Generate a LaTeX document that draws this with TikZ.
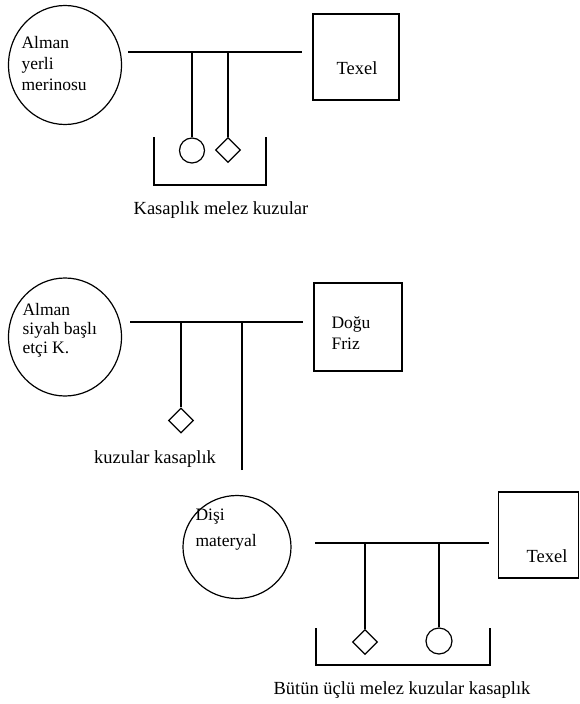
\documentclass[tikz,border=0pt]{standalone}
\usepackage{fontspec}
\setmainfont{Liberation Serif}
\usetikzlibrary{shapes.geometric}
\begin{document}
\begin{tikzpicture}[x=1pt,y=-1pt,line width=1.2pt,
  parent/.style={draw,ellipse,inner sep=0pt},
  breed/.style={draw,rectangle,inner sep=0pt},
  dia/.style={draw,diamond,inner sep=0pt,minimum width=25pt,minimum height=25pt},
  ball/.style={draw,circle,inner sep=0pt,minimum size=25pt},
  lbl/.style={inner sep=0pt,align=left,font=\fontsize{17.5}{21}\selectfont},
  captxt/.style={inner sep=0pt,font=\fontsize{18.5}{21}\selectfont}]
\useasboundingbox (0,0) rectangle (580,704);
% ---- section 1
\node[parent,minimum width=113pt,minimum height=119pt] (p1) at (65,65) {};
\node[lbl,anchor=west] (p1t) at (21,64) {Alman\\yerli\\merinosu};
\node[breed,minimum width=86pt,minimum height=86pt] (b1) at (356,57) {};
\node[captxt] (b1t) at (357,68) {Texel};
\coordinate (h1a) at (128,52);
\coordinate (h1b) at (302,52);
\draw (h1a) -- (h1b);
\node[ball] (o1) at (192,150.5) {};
\node[dia] (d1) at (228,150) {};
\draw (o1.north) -- (o1.north |- h1a);
\draw (d1.north) -- (d1.north |- h1a);
\coordinate (k1a) at (154,137);
\coordinate (k1b) at (154,185);
\coordinate (k1c) at (266,185);
\coordinate (k1d) at (266,137);
\draw (k1a) -- (k1b) -- (k1c) -- (k1d);
\node[captxt] (c1) at (221,210) {Kasaplık melez kuzular};
% ---- section 2
\node[parent,minimum width=113pt,minimum height=118pt] (p2) at (65,337) {};
\node[lbl,anchor=west,font=\fontsize{17.5}{19}\selectfont] (p2t) at (22,330) {Alman\\siyah başlı\\etçi K.};
\node[breed,minimum width=88pt,minimum height=88pt] (b2) at (358,327) {};
\node[lbl,anchor=west] (b2t) at (331,333) {Doğu\\Friz};
\coordinate (h2a) at (130,322);
\coordinate (h2b) at (303,322);
\draw (h2a) -- (h2b);
\node[dia] (d2) at (181,420.5) {};
\draw (d2.north) -- (d2.north |- h2a);
\coordinate (v2) at (242,470);
\draw (v2) -- (v2 |- h2a);
\node[captxt] (c2) at (155,459) {kuzular kasaplık};
% ---- section 3
\node[parent,minimum width=108pt,minimum height=103pt] (p3) at (237,547) {};
\node[lbl,anchor=west,font=\fontsize{17.5}{26}\selectfont] (p3t) at (195,530) {Dişi\\materyal};
\node[breed,minimum width=80pt,minimum height=86pt] (b3) at (538.5,535) {};
\node[captxt] (b3t) at (547,556) {Texel};
\coordinate (h3a) at (315,543);
\coordinate (h3b) at (489,543);
\draw (h3a) -- (h3b);
\node[dia] (d3) at (365,642) {};
\node[ball,minimum size=26pt] (o3) at (439,641) {};
\draw (d3.north) -- (d3.north |- h3a);
\draw (o3.north) -- (o3.north |- h3a);
\coordinate (k3a) at (316,628);
\coordinate (k3b) at (316,665);
\coordinate (k3c) at (490,665);
\coordinate (k3d) at (490,628);
\draw (k3a) -- (k3b) -- (k3c) -- (k3d);
\node[captxt] (c3) at (402,690) {Bütün üçlü melez kuzular kasaplık};
\end{tikzpicture}
\end{document}
